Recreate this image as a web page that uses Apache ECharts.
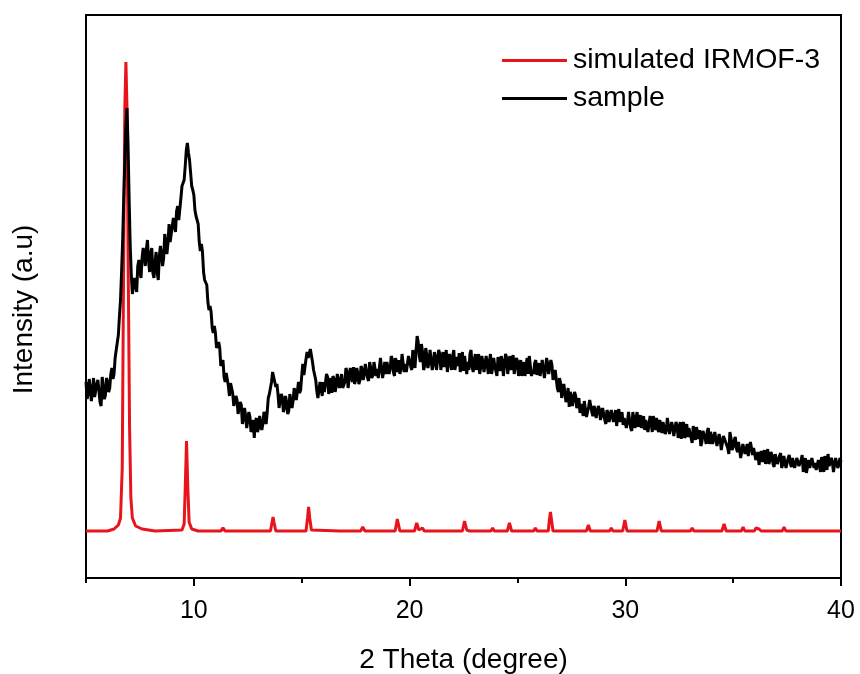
<!DOCTYPE html>
<html>
<head>
<meta charset="utf-8">
<script src="https://cdn.jsdelivr.net/npm/echarts@6/dist/echarts.min.js"></script>
<style>
html,body{margin:0;padding:0;background:#fff;}
#chart{width:860px;height:674px;}
</style>
</head>
<body>
<div id="chart"></div>
<script>
// ---- data ----
const seriesNames = ['simulated IRMOF-3', 'sample'];
const xTickLabels = [10, 20, 30, 40];
const xMinorTicks = [5, 15, 25, 35];

// simulated pattern: [2theta, intensity]
const simulatedPattern = [[5,47],[6.0,47],[6.3,49],[6.5,53],[6.6,60],[6.68,110],[6.74,300],[6.8,470],[6.85,516],[6.9,470],[6.96,300],[7.02,150],[7.08,80],[7.15,60],[7.3,52],[7.6,49],[8.2,47],
[9.45,48],[9.55,54],[9.6,90],[9.66,137],[9.72,90],[9.78,56],[9.9,49],[10.2,47],
[11.25,47],[11.35,50],[11.45,47],[13.55,47],[13.62,55],[13.67,61],[13.72,55],[13.8,47],
[15.2,47],[15.27,60],[15.32,71],[15.37,60],[15.45,48],[16.75,47],[16.83,49],[16.9,47],
[17.73,47],[17.83,51],[17.93,47],[19.33,47],[19.39,54],[19.43,59],[19.48,54],[19.55,47],
[20.23,47],[20.33,55],[20.43,48],[20.52,47],[20.6,50],[20.68,47],[21.68,47],[21.76,49],[21.84,47],
[22.45,47],[22.55,57],[22.65,48],[22.7,49],[22.78,47],[23.77,47],[23.85,50],[23.93,47],
[24.53,47],[24.63,55],[24.73,47],[25.75,47],[25.83,50],[25.91,47],
[26.43,47],[26.48,58],[26.53,66],[26.58,58],[26.65,47],[28.2,47],[28.29,53],[28.38,47],
[29.27,47],[29.35,50],[29.43,47],[29.88,47],[29.98,58],[30.08,47],[31.47,47],[31.57,57],[31.67,47],
[33.02,47],[33.1,50],[33.18,47],[34.48,47],[34.58,54],[34.68,47],[35.38,47],[35.46,51],[35.54,47],
[35.98,47],[36.06,50],[36.2,49],[36.3,47],[37.28,47],[37.36,51],[37.44,47],[38.12,47],[38.2,49],[38.28,47],
[38.62,47],[38.7,49],[38.78,47],[39.52,47],[39.6,49],[39.68,47],[40,47]];

// measured sample, read at 5.0, 5.1, ... 40.0
const sampleStart = 5.0;
const sampleStep = 0.1;
const sampleIntensity = [
196,185,199,188,181,194,187,172,191,183,
196,190,210,204,228,243,278,338,418,470,
378,303,282,299,312,306,320,322,329,317,
324,305,315,306,322,323,320,343,335,336,
352,352,367,358,380,392,412,435,418,392,
383,362,354,327,326,298,293,268,266,245,
245,228,230,214,201,205,192,195,185,173,
178,165,173,159,162,152,161,150,140,160,
150,163,154,163,166,184,196,207,191,184,
170,181,170,176,167,183,177,190,187,185,
202,203,219,220,229,216,206,187,178,194,
196,186,201,191,185,199,192,204,198,190,
196,206,192,203,211,198,205,198,209,204,
214,197,210,203,214,209,201,218,207,204,
215,209,219,202,215,218,209,222,214,208,
222,208,219,227,236,216,226,212,222,216,
227,213,221,210,224,219,211,228,216,214,
222,208,221,225,214,207,223,216,224,211,
218,208,224,211,216,207,221,217,204,220,
210,221,207,217,204,220,214,208,223,211,
217,207,202,216,213,204,220,208,215,203,
215,204,219,208,215,205,213,197,199,186,
195,181,193,180,171,182,173,182,174,165,
169,177,161,171,177,162,168,159,169,163,
171,154,165,158,167,162,152,169,156,153,
162,156,164,147,158,161,151,163,154,148,
160,146,155,162,148,149,158,145,154,148,
158,144,151,140,153,148,139,156,143,141,
149,135,147,151,139,132,147,140,147,134,
142,132,147,134,138,129,142,138,124,140,
131,141,126,135,121,136,129,122,136,123,
130,119,113,127,123,114,129,117,123,111,
123,112,125,114,120,111,123,111,118,109,
121,110,123,112,105,118,111,122,115,107,
112,121,106,117,124,110,116,108,119,113,
116];

// measured sample, read halfway between, at 5.05, 5.15, ... 39.95
const sampleIntensityHalf = [
179,199,177,200,183,198,176,201,179,200,
186,204,199,220,230,262,306,380,452,432,
332,284,300,286,318,300,330,312,338,306,
330,300,326,298,332,312,344,324,354,336,
360,346,372,360,392,398,428,425,405,388,
368,362,336,334,306,300,276,272,250,252,
230,236,212,218,196,204,182,196,172,182,
164,176,154,170,150,166,146,158,156,146,
162,148,166,154,180,186,206,196,194,170,
184,166,182,164,184,170,190,178,196,188,
214,204,226,220,230,208,198,180,196,182,
186,204,184,200,202,186,204,190,204,192,
210,190,210,196,194,210,194,212,198,214,
200,216,200,216,202,200,220,200,216,216,
204,222,206,220,206,204,224,206,206,222,
212,228,210,242,222,234,208,230,210,228,
208,226,208,228,208,226,220,206,224,208,
228,210,212,206,226,222,204,208,228,206,
224,214,204,222,206,222,204,224,210,212,
202,212,222,202,224,204,222,218,204,220,
202,218,210,202,220,222,202,204,218,210,
202,218,200,220,204,218,198,208,190,200,
180,194,176,190,186,172,186,170,180,174,
162,176,160,178,166,172,160,172,158,170,
158,168,156,168,156,168,164,156,166,160,
150,166,150,166,150,166,158,150,162,158,
146,162,146,156,160,146,160,156,144,160,
144,156,142,156,140,156,152,140,154,150,
140,152,138,146,148,136,146,134,150,146,
134,146,132,144,128,142,136,130,146,128,
138,130,136,120,134,124,134,120,130,130,
118,126,122,116,128,122,114,126,114,124,
114,122,110,122,110,120,115,120,110,120,
112,118,106,120,112,110,120,110,108,118,
106,114,122,108,112,120,106,120,110,120];

const samplePoints = [];
sampleIntensity.forEach((v, i) => {
  const x = Math.round((sampleStart + i * sampleStep) * 100) / 100;
  samplePoints.push([x, v]);
  if (i < sampleIntensityHalf.length) {
    samplePoints.push([Math.round((x + sampleStep / 2) * 100) / 100, sampleIntensityHalf[i]]);
  }
});

const FONT = "'Liberation Sans', Arial, sans-serif";
const chart = echarts.init(document.getElementById('chart'), null, {renderer: 'canvas'});
chart.setOption({
  animation: false,
  backgroundColor: '#fff',
  grid: {left: 86, right: 19, top: 15, bottom: 96, show: true, borderColor: '#000', borderWidth: 2,
         containLabel: false, outerBoundsMode: 'none'},
  legend: {
    orient: 'vertical', left: 497, top: 41, itemGap: 9, itemWidth: 65, itemHeight: 3,
    icon: 'rect',
    data: seriesNames,
    textStyle: {fontFamily: FONT, fontSize: 28.5, color: '#000', padding: [0, 0, 0, 1]}
  },
  xAxis: [{
    type: 'value', min: 5, max: 40,
    name: '2 Theta (degree)', nameLocation: 'middle', nameGap: 68,
    nameTextStyle: {fontFamily: FONT, fontSize: 28, color: '#000'},
    axisLine: {show: true, onZero: false, lineStyle: {color: '#000', width: 2}},
    axisTick: {show: true, customValues: xTickLabels, length: 8, lineStyle: {color: '#000', width: 2}},
    axisLabel: {customValues: xTickLabels, margin: 21, fontFamily: FONT, fontSize: 25, color: '#000'},
    splitLine: {show: false}
  }, {
    type: 'value', min: 5, max: 40, position: 'bottom',
    axisLine: {show: false},
    axisTick: {show: true, customValues: xMinorTicks, length: 5, lineStyle: {color: '#000', width: 2}},
    axisLabel: {show: false},
    splitLine: {show: false}
  }],
  yAxis: {
    type: 'value', min: 0, max: 563,
    name: 'Intensity (a.u)', nameLocation: 'middle', nameGap: 48,
    nameTextStyle: {fontFamily: FONT, fontSize: 28, color: '#000', padding: [0, 26, 0, 0]},
    axisLine: {show: true, lineStyle: {color: '#000', width: 2}},
    axisTick: {show: false},
    axisLabel: {show: false},
    splitLine: {show: false}
  },
  series: [{
    name: seriesNames[0], type: 'line', data: simulatedPattern, showSymbol: false, symbol: 'none',
    lineStyle: {color: '#e8141c', width: 3}, itemStyle: {color: '#e8141c'}, z: 2
  }, {
    name: seriesNames[1], type: 'line', data: samplePoints, showSymbol: false, symbol: 'none',
    sampling: 'none',
    lineStyle: {color: '#000', width: 3}, itemStyle: {color: '#000'}, z: 3
  }]
});
</script>
</body>
</html>
